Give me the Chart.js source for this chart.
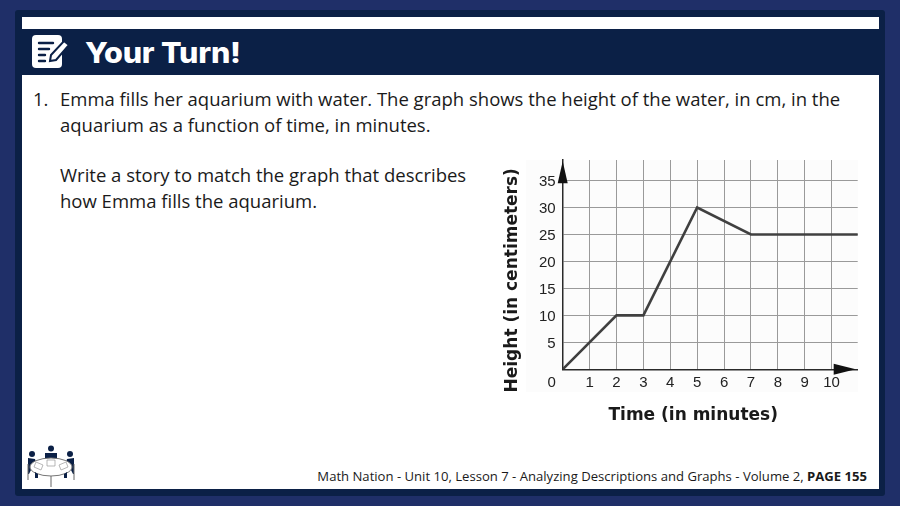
<!DOCTYPE html>
<html>
<head>
<meta charset="utf-8">
<script src="https://cdn.jsdelivr.net/npm/chart.js@4"></script>
<style>
    html, body { margin: 0; padding: 0; }
    body { width: 900px; height: 506px; overflow: hidden; position: relative; background: #1f2f68; font-family: "Open Sans", sans-serif; color: #1a1a1a; }
    .frame { position: absolute; left: 15px; top: 10px; width: 870px; height: 486px; background: #0b2046; border-radius: 3px; }
    .strip { position: absolute; left: 22px; top: 17px; width: 857px; height: 12px; background: #fff; }
    .page { position: absolute; left: 22px; top: 75px; width: 857px; height: 414px; background: #fff; }
    .title { position: absolute; left: 85px; top: 34px; font: 800 28px/38px Inter, sans-serif; color: #fff; letter-spacing: -0.2px; transform: scaleX(1.09); transform-origin: left center; }
    .text { position: absolute; font-size: 18.5px; line-height: 26px; white-space: nowrap; }
    .footer { position: absolute; right: 33px; top: 467px; font-size: 13.1px; line-height: 18px; white-space: nowrap; }
    .chart-bg { position: absolute; left: 526px; top: 160px; width: 332px; height: 232px; background: #fcfcfc; }
    .chart-box { position: absolute; left: 490px; top: 150px; width: 390px; height: 280px; }
    svg { position: absolute; }
</style>
</head>
<body>
<div class="frame"></div>
<div class="strip"></div>
<div class="page"></div>

<!-- icone do titulo -->
<svg style="left:32px;top:35px" width="38" height="34" viewBox="0 0 38 34">
    <rect x="0" y="0" width="30" height="33" rx="4" fill="#fff"/>
    <path d="M7 8h14M7 14h10M7 20h6M7 26h6" stroke="#0b2046" stroke-width="2.4" stroke-linecap="round"/>
    <path d="M18 26l1-6L32 6l5 4-13 15z" fill="#fff" stroke="#0b2046" stroke-width="2"/>
</svg>
<div class="title">Your Turn!</div>

<div class="text" style="left:33px;top:86px">1.</div>
<div class="text" style="left:60px;top:86px">Emma fills her aquarium with water. The graph shows the height of the water, in cm, in the<br>aquarium as a function of time, in minutes.</div>
<div class="text" style="left:60px;top:162px">Write a story to match the graph that describes<br>how Emma fills the aquarium.</div>

<div class="chart-bg"></div>
<div class="chart-box"><canvas id="chart-altura"></canvas></div>

<!-- icone da mesa -->
<svg style="left:26px;top:444px" width="52" height="44" viewBox="0 0 52 44" fill="#0b2046">
    <circle cx="25" cy="4.5" r="3"/><circle cx="6" cy="10" r="3"/><circle cx="44" cy="10" r="3"/>
    <path d="M19 9h12v7H19zM2 14l7 1 2 8-6 3-2 4H2zM48 14l-7 1-2 8 6 3 2 4h1z"/>
    <ellipse cx="25" cy="23" rx="21" ry="9" fill="#fff" stroke="#777" stroke-width="1"/>
    <path d="M21 16h8v6h-8zM10 18l7 3-2 5-7-3zM40 18l-7 3 2 5 7-3z" fill="#fff" stroke="#999" stroke-width=".7"/>
    <path d="M2 20v16M48 20v16M25 32v11" stroke="#666" stroke-width="1" fill="none"/>
    <path d="M9 28l3 2v4H9zM41 28l-3 2v4h3z"/>
</svg>

<div class="footer">Math Nation - Unit 10, Lesson 7 - Analyzing Descriptions and Graphs - Volume 2, <b>PAGE 155</b></div>

<script>
// Dados
const tempos = [0, 2, 3, 5, 7, 11];
const alturas = [0, 10, 10, 30, 25, 25];
const xTicks = [1, 2, 3, 4, 5, 6, 7, 8, 9, 10];
const yTicks = [5, 10, 15, 20, 25, 30, 35];
const xOrigemLabel = '0';
const tituloX = 'Time (in minutes)';
const tituloY = 'Height (in centimeters)';

const corEixo = '#2a2a2a';
const corGrade = '#9a9a9a';
const corLinha = '#404040';

// Setas, titulos e o "0" deslocado, que o Chart.js nao posiciona sozinho
const extrasPlugin = {
    id: 'extras',
    afterDraw(chart) {
        const { ctx } = chart;
        const x0 = chart.scales.x.getPixelForValue(0);
        const y0 = chart.scales.y.getPixelForValue(0);

        ctx.save();
        ctx.fillStyle = '#111';
        // seta vertical
        ctx.beginPath();
        ctx.moveTo(x0, y0 - 208);
        ctx.lineTo(x0 - 5, y0 - 186);
        ctx.lineTo(x0 + 5, y0 - 186);
        ctx.fill();
        // seta horizontal
        ctx.beginPath();
        ctx.moveTo(x0 + 293, y0);
        ctx.lineTo(x0 + 271, y0 - 5.5);
        ctx.lineTo(x0 + 271, y0 + 5.5);
        ctx.fill();

        ctx.fillStyle = '#222';
        ctx.font = '15px "Liberation Sans"';
        ctx.textAlign = 'center';
        ctx.textBaseline = 'middle';
        ctx.fillText(xOrigemLabel, x0 - 11, y0 + 13.5);

        ctx.fillStyle = '#1a1a1a';
        ctx.font = 'bold 17px "DejaVu Sans"';
        ctx.fillText(tituloX, x0 + 130.5, y0 + 46);
        ctx.translate(x0 - 50.5, y0 - 89);
        ctx.rotate(-Math.PI / 2);
        ctx.fillText(tituloY, 0, 0);
        ctx.restore();
    }
};

function createAlturaChart() {
    const ctx = document.getElementById('chart-altura');

    window.alturaChart = new Chart(ctx, {
        type: 'line',
        data: {
            datasets: [{
                data: tempos.map((t, i) => ({ x: t, y: alturas[i] })),
                borderColor: corLinha,
                borderWidth: 2.6,
                pointRadius: 0,
                tension: 0
            }]
        },
        options: {
            responsive: true,
            maintainAspectRatio: false,
            animation: false,
            layout: { padding: { top: 10, right: 22.3, bottom: 0, left: 0 } },
            plugins: { legend: { display: false }, tooltip: { enabled: false } },
            scales: {
                x: {
                    type: 'linear',
                    min: 0,
                    max: 10.97,
                    afterFit: scale => {
                        scale.height = 60.7;
                        scale.paddingLeft = 0;
                        scale.paddingRight = 0;
                    },
                    afterBuildTicks: scale => {
                        scale.ticks = [0].concat(xTicks).map(v => ({ value: v }));
                    },
                    grid: { color: corGrade, lineWidth: 1, drawTicks: false },
                    border: { color: corEixo, width: 1.5 },
                    ticks: {
                        padding: 5,
                        color: '#222',
                        font: { family: '"Liberation Sans"', size: 15 },
                        callback: value => (value === 0 ? '' : String(value))
                    }
                },
                y: {
                    type: 'linear',
                    min: 0,
                    max: 38.8,
                    afterFit: scale => {
                        scale.width = 72.7;
                        scale.paddingTop = 0;
                        scale.paddingBottom = 0;
                    },
                    afterBuildTicks: scale => {
                        scale.ticks = [0].concat(yTicks).map(v => ({ value: v }));
                    },
                    grid: { color: corGrade, lineWidth: 1, drawTicks: false },
                    border: { color: corEixo, width: 1.5 },
                    ticks: {
                        padding: 7,
                        labelOffset: 1.5,
                        color: '#222',
                        font: { family: '"Liberation Sans"', size: 15 },
                        callback: value => (value === 0 ? '' : String(value))
                    }
                }
            }
        },
        plugins: [extrasPlugin]
    });
}

createAlturaChart();
</script>
</body>
</html>
